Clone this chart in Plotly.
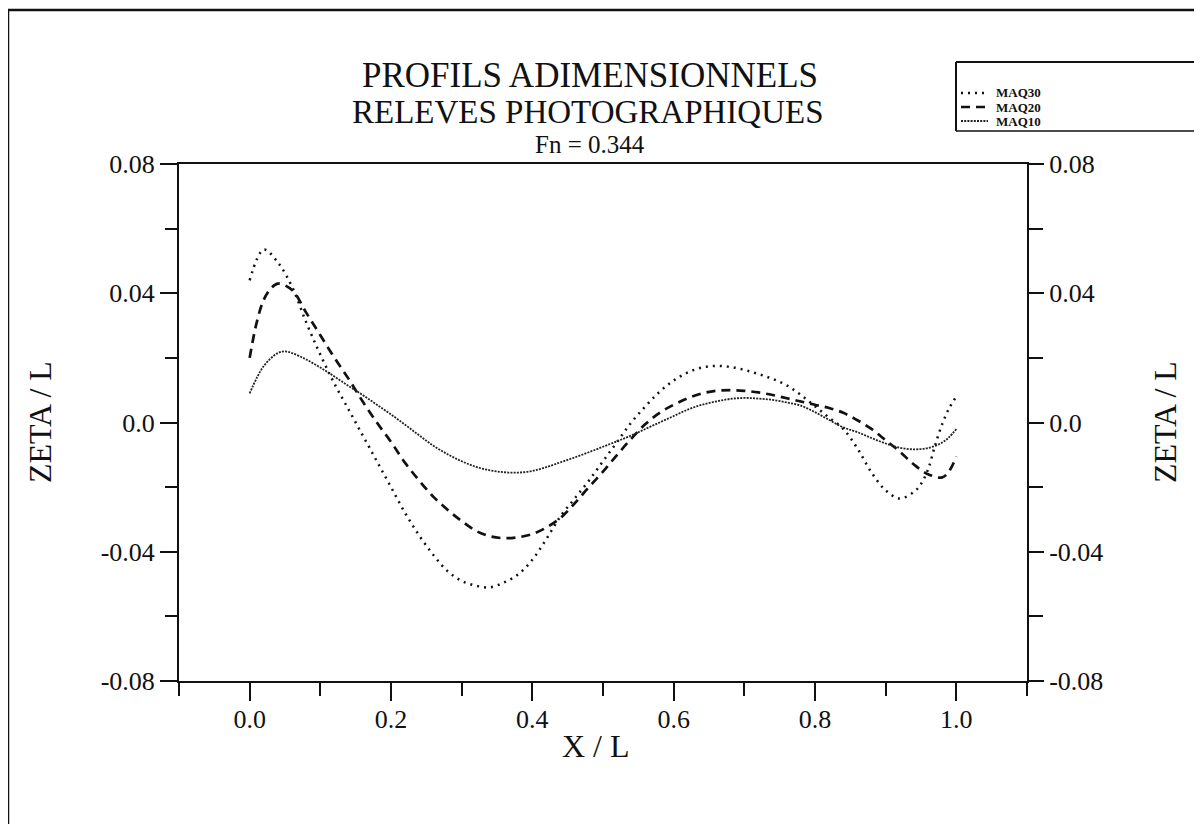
import plotly.graph_objects as go

# ---- data ----
x_maq30 = [0.00, 0.02, 0.04, 0.06, 0.08, 0.10, 0.12, 0.14, 0.16, 0.18, 0.20, 0.22, 0.24, 0.26, 0.28, 0.30,
           0.32, 0.34, 0.36, 0.38, 0.40, 0.42, 0.44, 0.46, 0.48, 0.50, 0.52, 0.54, 0.56, 0.58, 0.60, 0.62,
           0.64, 0.66, 0.68, 0.70, 0.72, 0.74, 0.76, 0.78, 0.80, 0.82, 0.84, 0.86, 0.88, 0.90, 0.92, 0.94,
           0.95, 0.96, 0.97, 0.98, 0.99, 1.00]
y_maq30 = [0.0440, 0.0535, 0.0495, 0.0420, 0.0310, 0.0210, 0.0120, 0.0040, -0.0040, -0.0120, -0.0200, -0.0280,
           -0.0350, -0.0410, -0.0460, -0.0490, -0.0505, -0.0510, -0.0495, -0.0470, -0.0425, -0.0360, -0.0290,
           -0.0235, -0.0180, -0.0120, -0.0060, 0.0000, 0.0050, 0.0095, 0.0130, 0.0155, 0.0170, 0.0175, 0.0172,
           0.0163, 0.0150, 0.0135, 0.0115, 0.0085, 0.0050, 0.0015, -0.0020, -0.0080, -0.0155, -0.0210, -0.0235,
           -0.0215, -0.0190, -0.0145, -0.0070, -0.0005, 0.0045, 0.0080]

x_maq20 = [0.00, 0.01, 0.02, 0.03, 0.04, 0.06, 0.08, 0.10, 0.12, 0.14, 0.16, 0.18, 0.20, 0.22, 0.24, 0.26,
           0.28, 0.30, 0.32, 0.34, 0.36, 0.38, 0.40, 0.42, 0.44, 0.46, 0.48, 0.50, 0.52, 0.54, 0.56, 0.58,
           0.60, 0.62, 0.64, 0.66, 0.68, 0.70, 0.72, 0.74, 0.76, 0.78, 0.80, 0.82, 0.84, 0.86, 0.88, 0.90,
           0.92, 0.94, 0.96, 0.98, 0.99, 1.00]
y_maq20 = [0.0200, 0.0310, 0.0380, 0.0415, 0.0430, 0.0410, 0.0340, 0.0270, 0.0200, 0.0135, 0.0065, 0.0000,
           -0.0060, -0.0125, -0.0180, -0.0230, -0.0270, -0.0305, -0.0335, -0.0352, -0.0358, -0.0355, -0.0345,
           -0.0325, -0.0295, -0.0250, -0.0200, -0.0152, -0.0100, -0.0050, -0.0005, 0.0030, 0.0055, 0.0075,
           0.0090, 0.0098, 0.0100, 0.0098, 0.0093, 0.0085, 0.0075, 0.0065, 0.0055, 0.0045, 0.0030, 0.0007,
           -0.0020, -0.0055, -0.0090, -0.0130, -0.0160, -0.0170, -0.0150, -0.0105]

x_maq10 = [0.00, 0.02, 0.04, 0.05, 0.06, 0.08, 0.10, 0.12, 0.14, 0.16, 0.18, 0.20, 0.22, 0.24, 0.26, 0.28,
           0.30, 0.32, 0.34, 0.36, 0.38, 0.40, 0.42, 0.44, 0.46, 0.48, 0.50, 0.52, 0.54, 0.56, 0.58, 0.60,
           0.62, 0.64, 0.66, 0.68, 0.70, 0.72, 0.74, 0.76, 0.78, 0.80, 0.82, 0.84, 0.86, 0.88, 0.90, 0.92,
           0.94, 0.96, 0.98, 0.99, 1.00]
y_maq10 = [0.0090, 0.0175, 0.0215, 0.0220, 0.0215, 0.0195, 0.0170, 0.0142, 0.0113, 0.0085, 0.0055, 0.0025,
           -0.0007, -0.0040, -0.0072, -0.0098, -0.0120, -0.0137, -0.0148, -0.0154, -0.0155, -0.0150, -0.0138,
           -0.0123, -0.0108, -0.0092, -0.0075, -0.0058, -0.0040, -0.0020, 0.0000, 0.0020, 0.0040, 0.0055,
           0.0065, 0.0073, 0.0076, 0.0074, 0.0070, 0.0062, 0.0052, 0.0032, 0.0008, -0.0015, -0.0030, -0.0048,
           -0.0065, -0.0078, -0.0083, -0.0079, -0.0062, -0.0045, -0.0020]

series_names = ["MAQ30", "MAQ20", "MAQ10"]
x_ticks = [0.0, 0.2, 0.4, 0.6, 0.8, 1.0]
x_ticklabels = ["0.0", "0.2", "0.4", "0.6", "0.8", "1.0"]
x_minor = [-0.1, 0.1, 0.3, 0.5, 0.7, 0.9, 1.1]
y_ticks = [-0.08, -0.04, 0.0, 0.04, 0.08]
y_ticklabels = ["-0.08", "-0.04", "0.0", "0.04", "0.08"]
y_minor = [-0.06, -0.02, 0.02, 0.06]

SERIF = "Liberation Serif, Times New Roman, serif"
W, H = 1202, 824
OFF = 8  # page body margin: screen px = figure px + 8
# plot area in screen pixels: left 179, right 1027, top 164, bottom 681
L, T = 179 - OFF, 164 - OFF
R = W - (1027 - OFF)
B = H - (681 - OFF)
PW, PH = W - L - R, H - T - B


def xp(px):  # screen px -> paper
    return (px - OFF - L) / PW


def yp(py):
    return (H - B - (py - OFF)) / PH


styles = [
    dict(color="#111", width=2.5, dash="2px,5px"),
    dict(color="#111", width=2.7, dash="9px,6px"),
    dict(color="#222", width=1.8, dash="2px,1.2px"),
]

fig = go.Figure()
for name, xs, ys, st in zip(series_names, [x_maq30, x_maq20, x_maq10], [y_maq30, y_maq20, y_maq10], styles):
    fig.add_trace(go.Scatter(x=xs, y=ys, mode="lines", name=name,
                             line=dict(shape="spline", smoothing=1.0, **st), showlegend=False))

axis_common = dict(
    showgrid=False, zeroline=False, showline=True, linecolor="#111", linewidth=2,
    ticks="outside", tickcolor="#111", tickwidth=2,
    tickfont=dict(family=SERIF, size=26, color="#111"),
)
minor_common = dict(tickwidth=2, tickcolor="#111", ticks="outside")

fig.update_layout(
    width=W, height=H,
    margin=dict(l=L, r=R, t=T, b=B),
    paper_bgcolor="white", plot_bgcolor="white",
    showlegend=False,
    xaxis=dict(range=[-0.1, 1.1], tickvals=x_ticks, ticktext=x_ticklabels, ticklen=18, mirror=True,
               ticklabelstandoff=-4,
               minor=dict(tickvals=x_minor, ticklen=13, **minor_common), **axis_common),
    yaxis=dict(range=[-0.08, 0.08], tickvals=y_ticks, ticktext=y_ticklabels, ticklen=17,
               minor=dict(tickvals=y_minor, ticklen=12, **minor_common), **axis_common),
    yaxis2=dict(range=[-0.08, 0.08], overlaying="y", side="right", tickvals=y_ticks, ticktext=y_ticklabels,
                ticklen=15, minor=dict(tickvals=y_minor, ticklen=14, **minor_common), **axis_common),
)
# invisible trace to anchor the right axis
fig.add_trace(go.Scatter(x=[None], y=[None], yaxis="y2", showlegend=False, hoverinfo="skip"))

ann = []
ann.append(dict(text="PROFILS ADIMENSIONNELS", x=xp(590), y=yp(76), font=dict(family=SERIF, size=35, color="#111")))
ann.append(dict(text="RELEVES PHOTOGRAPHIQUES", x=xp(588), y=yp(112), font=dict(family=SERIF, size=33, color="#111")))
ann.append(dict(text="Fn = 0.344", x=xp(590), y=yp(144), font=dict(family=SERIF, size=25, color="#111")))
ann.append(dict(text="X / L", x=xp(596), y=yp(746), font=dict(family=SERIF, size=32, color="#111")))
ann.append(dict(text="ZETA / L", x=xp(40), y=yp(422), textangle=-90, font=dict(family=SERIF, size=32, color="#111")))
ann.append(dict(text="ZETA / L", x=xp(1165), y=yp(422), textangle=-90, font=dict(family=SERIF, size=32, color="#111")))
for a in ann:
    a.update(xref="paper", yref="paper", showarrow=False, xanchor="center", yanchor="middle")

# legend (manual, compact like the reference)
leg_rows = [93, 107, 121]
for name, st, py in zip(series_names, styles, leg_rows):
    fig.add_shape(type="line", xref="paper", yref="paper", x0=xp(961), x1=xp(988), y0=yp(py), y1=yp(py),
                  line=dict(color=st["color"], width=st["width"], dash=st["dash"]))
    ann.append(dict(text=name, xref="paper", yref="paper", x=xp(994), y=yp(py), xanchor="left", yanchor="middle",
                    showarrow=False, font=dict(family=SERIF, size=13, color="#111", weight="bold")))
# legend box
fig.add_shape(type="line", xref="paper", yref="paper", x0=xp(956), x1=xp(1210), y0=yp(62), y1=yp(62),
              line=dict(color="#111", width=2))
fig.add_shape(type="line", xref="paper", yref="paper", x0=xp(956), x1=xp(956), y0=yp(62), y1=yp(131),
              line=dict(color="#111", width=2))
fig.add_shape(type="line", xref="paper", yref="paper", x0=xp(956), x1=xp(1210), y0=yp(131), y1=yp(131),
              line=dict(color="#111", width=1.5))
# outer frame (top and left edges visible)
fig.add_shape(type="line", xref="paper", yref="paper", x0=xp(8), x1=xp(1210), y0=yp(10), y1=yp(10),
              line=dict(color="#111", width=2.5))
fig.add_shape(type="line", xref="paper", yref="paper", x0=xp(8), x1=xp(8), y0=yp(10), y1=yp(840),
              line=dict(color="#111", width=2.5))

fig.update_layout(annotations=ann)
fig.write_html("out.html")
